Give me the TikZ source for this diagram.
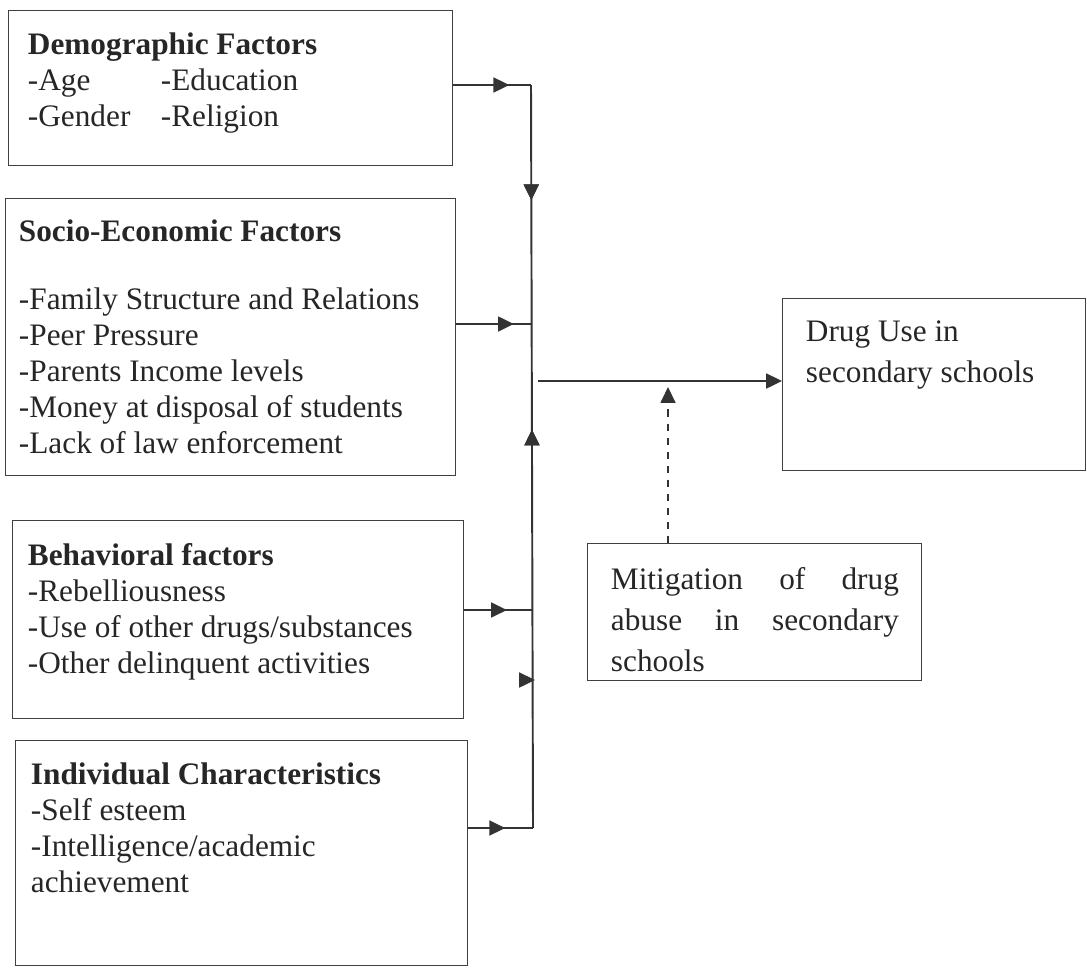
\documentclass[tikz,border=0pt]{standalone}
\usepackage{fontspec}
\setmainfont{Liberation Serif}
\usetikzlibrary{arrows.meta,decorations.markings}

\begin{document}
\begin{tikzpicture}[x=0.02cm,y=-0.02cm,line width=1.1pt,
  >={Triangle[length=9pt,width=8.5pt]},
  box/.style={draw=black!75,line width=0.8pt,inner sep=0pt,anchor=north west},
  txt/.style={anchor=north west,inner sep=0pt,align=left,text=black!85,
    font=\fontsize{17.8}{20.5}\selectfont},
  wide/.style={txt,font=\fontsize{17.8}{23.5}\selectfont},
  midarrow/.style={postaction={decorate},
    decoration={markings,mark=at position #1 with {\arrow{>}}}},
  backarrow/.style={postaction={decorate},
    decoration={markings,mark=at position #1 with {\arrow{<}}}}]
\useasboundingbox (0,0) rectangle (1087,978);
% ---------- factor boxes ----------
\node[box,minimum width=8.88cm,minimum height=3.1cm] (demo) at (8,10) {};
\node[txt] (demotext) at (27,32) {\textbf{Demographic Factors}\\
  \makebox[2.66cm][l]{-Age}-Education\\
  \makebox[2.66cm][l]{-Gender}-Religion};
\node[box,minimum width=9.0cm,minimum height=5.54cm] (socio) at (5,198) {};
\node[txt] (sociotext) at (18,219) {\textbf{Socio-Economic Factors}\\[18pt]
  -Family Structure and Relations\\ -Peer Pressure\\ -Parents Income levels\\
  -Money at disposal of students\\ -Lack of law enforcement};
\node[box,minimum width=9.02cm,minimum height=3.96cm] (behav) at (12,520) {};
\node[txt] (behavtext) at (27,542) {\textbf{Behavioral factors}\\
  -Rebelliousness\\ -Use of other drugs/substances\\ -Other delinquent activities};
\node[box,minimum width=9.04cm,minimum height=4.5cm] (indiv) at (15,740) {};
\node[txt] (indivtext) at (30,762) {\textbf{Individual Characteristics}\\
  -Self esteem\\ -Intelligence/academic\\ achievement};
% ---------- outcome and moderator ----------
\node[box,minimum width=6.06cm,minimum height=3.44cm] (druguse) at (782,298) {};
\node[wide] (drugtext) at (805,320) {Drug Use in\\ secondary schools};
\node[box,minimum width=6.68cm,minimum height=2.74cm] (mitig) at (587,543) {};
\node[wide,text width=5.76cm,align=justify] (mitigtext) at (610,566)
  {\hyphenpenalty=10000 Mitigation of drug abuse in secondary schools};
% ---------- connectors ----------
\coordinate (in1) at (531,85);
\coordinate (in2) at (531,324);
\coordinate (in3) at (533,610);
\coordinate (in4) at (533,828);
\coordinate (hub) at (538,381);
\coordinate (straytail) at (519,680);
\coordinate (stray) at (535,680);
\coordinate (dashtop) at (668,387);
\draw[draw=black!80,midarrow=0.72] (demo.east |- in1) -- (in1);
\draw[draw=black!80,midarrow=0.77] (socio.east |- in2) -- (in2);
\draw[draw=black!80,midarrow=0.62] (behav.east |- in3) -- (in3);
\draw[draw=black!80,midarrow=0.57] (indiv.east |- in4) -- (in4);
\draw[draw=black!80,midarrow=0.155,backarrow=0.485] (in1) -- (in4);
\draw[draw=black!80,->] (straytail) -- (stray);
\draw[draw=black!80,->] (hub) -- (hub -| druguse.west);
\draw[draw=black!80,line width=0.8pt,dash pattern=on 4pt off 4pt,->]
  (mitig.north -| dashtop) -- (dashtop);
\end{tikzpicture}
\end{document}
